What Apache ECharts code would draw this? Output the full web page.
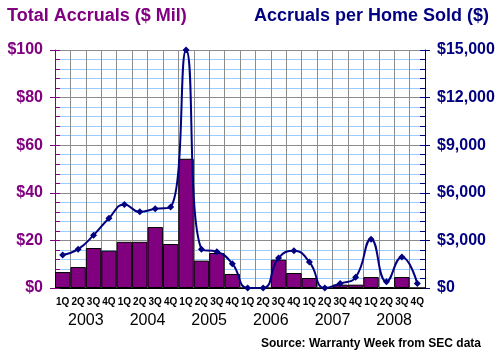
<!DOCTYPE html>
<html>
<head>
<meta charset="utf-8">
<script src="https://cdn.jsdelivr.net/npm/echarts@6/dist/echarts.min.js"></script>
<style>
html,body{margin:0;padding:0;background:#fff;}
#chart{width:500px;height:362px;}
</style>
</head>
<body>
<div id="chart"></div>
<script>
// ---- data ----
var quarters = ['1Q','2Q','3Q','4Q','1Q','2Q','3Q','4Q','1Q','2Q','3Q','4Q',
                '1Q','2Q','3Q','4Q','1Q','2Q','3Q','4Q','1Q','2Q','3Q','4Q'];
var years = ['2003','2004','2005','2006','2007','2008'];
var totalAccruals = [6.7, 8.8, 16.8, 15.7, 19.4, 19.4, 25.6, 18.5, 54.3, 11.5, 14.7, 5.9,
                     0, 0, 11.9, 6.3, 4.2, 0, 1.4, 1.4, 4.6, 0.4, 4.6, 0];
var perHomeSold = [2080, 2450, 3330, 4400, 5270, 4800, 4990, 5100, 15000, 2450, 2290, 1530,
                   0, 0, 1890, 2350, 1640, 0, 290, 670, 3080, 400, 1950, 290];
var leftTicks = [0, 20, 40, 60, 80, 100];
var rightTicks = [0, 3000, 6000, 9000, 12000, 15000];

var FONT = '"Liberation Sans", Arial, sans-serif';
var PURPLE = '#800080';
var NAVY = '#000080';

var chart = echarts.init(document.getElementById('chart'), null, {renderer: 'canvas'});

function fmtMoney(v) {
  return '$' + Number(v).toLocaleString('en-US');
}

var option = {
  animation: false,
  backgroundColor: '#fff',
  title: [
    {text: 'Total Accruals ($ Mil)', left: 2, top: 2,
     textStyle: {fontFamily: FONT, fontSize: 18, fontWeight: 'bold', color: PURPLE}},
    {text: 'Accruals per Home Sold ($)', right: 6, top: 2,
     textStyle: {fontFamily: FONT, fontSize: 18, fontWeight: 'bold', color: NAVY}},
    {text: 'Source: Warranty Week from SEC data', right: 14, bottom: 7,
     textStyle: {fontFamily: FONT, fontSize: 12, fontWeight: 'bold', color: '#000'}}
  ],
  grid: {left: 55, right: 75, top: 50, bottom: 74, containLabel: false},
  xAxis: [
    {
      type: 'category', data: quarters, position: 'bottom', boundaryGap: true,
      axisLine: {show: true, lineStyle: {color: '#000', width: 1}},
      axisTick: {show: false},
      axisLabel: {interval: 0, margin: 9, fontFamily: FONT, fontSize: 10, fontWeight: 'bold', color: '#000'},
      splitLine: {show: true, interval: 0, lineStyle: {color: '#8c8c8c', width: 1}}
    },
    {
      type: 'category', data: years, position: 'bottom', offset: 19, boundaryGap: true,
      axisLine: {show: false}, axisTick: {show: false},
      axisLabel: {interval: 0, margin: 6, fontFamily: FONT, fontSize: 16, color: '#000'},
      splitLine: {show: false}
    }
  ],
  yAxis: [
    {
      type: 'value', position: 'left', min: leftTicks[0], max: leftTicks[leftTicks.length - 1], interval: 20,
      axisLine: {show: true, lineStyle: {color: PURPLE, width: 1}},
      axisTick: {show: true, inside: false, length: 5, lineStyle: {color: PURPLE}},
      axisLabel: {margin: 12, fontFamily: FONT, fontSize: 16, fontWeight: 'bold', color: PURPLE,
                  formatter: function (v) { return '$' + v; }},
      splitLine: {show: true, lineStyle: {color: '#8c8c8c', width: 1}},
      minorTick: {show: false},
      minorSplitLine: {show: false}
    },
    {
      type: 'value', position: 'right', min: rightTicks[0], max: rightTicks[rightTicks.length - 1], interval: 3000,
      axisLine: {show: true, lineStyle: {color: NAVY, width: 1}},
      axisTick: {show: true, inside: false, length: 5, lineStyle: {color: NAVY}},
      axisLabel: {margin: 12, fontFamily: FONT, fontSize: 16, fontWeight: 'bold', color: NAVY,
                  formatter: fmtMoney},
      splitLine: {show: false}
    },
    {
      type: 'value', position: 'left', min: 0, max: 100, interval: 20,
      axisLine: {show: false},
      axisTick: {show: true, inside: true, length: 5, lineStyle: {color: PURPLE}},
      minorTick: {show: true, splitNumber: 5, length: 5, lineStyle: {color: PURPLE}},
      minorSplitLine: {show: true, lineStyle: {color: '#99ccff', width: 1}},
      axisLabel: {show: false}, splitLine: {show: false}
    },
    {
      type: 'value', position: 'right', min: 0, max: 15000, interval: 3000,
      axisLine: {show: false},
      axisTick: {show: true, inside: true, length: 5, lineStyle: {color: NAVY}},
      minorTick: {show: true, splitNumber: 5, length: 5, lineStyle: {color: NAVY}},
      axisLabel: {show: false}, splitLine: {show: false}
    }
  ],
  series: [
    {
      name: 'Total Accruals', type: 'bar', xAxisIndex: 0, yAxisIndex: 0,
      data: totalAccruals, barCategoryGap: '0%',
      itemStyle: {color: PURPLE, borderColor: '#000', borderWidth: 1}
    },
    {
      name: 'Accruals per Home Sold', type: 'line', xAxisIndex: 0, yAxisIndex: 1,
      data: perHomeSold, smooth: 0.5, clip: false,
      symbol: 'diamond', symbolSize: 7,
      lineStyle: {color: NAVY, width: 2},
      itemStyle: {color: NAVY}
    }
  ]
};
chart.setOption(option);
</script>
</body>
</html>
